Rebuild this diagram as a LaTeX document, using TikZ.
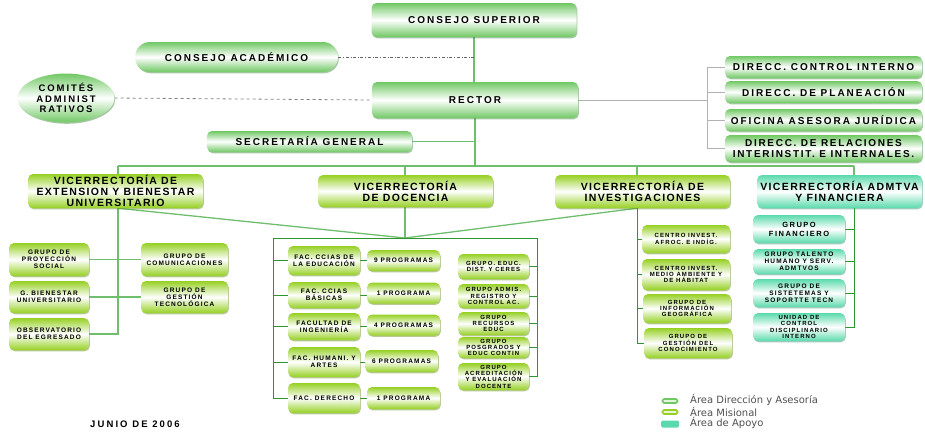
\documentclass[tikz,border=0pt]{standalone}
\usepackage{fontspec}
\setmainfont{Liberation Sans}
\newfontfamily\legfont{DejaVu Sans}
\usetikzlibrary{shapes.geometric,shadows}
\definecolor{dirG}{RGB}{112,200,100}
\definecolor{misG}{RGB}{150,208,35}
\definecolor{apoG}{RGB}{90,218,172}
\definecolor{dirS}{RGB}{60,130,55}
\definecolor{misS}{RGB}{95,135,20}
\definecolor{apoS}{RGB}{50,140,110}
\definecolor{lnG}{RGB}{110,190,110}
\definecolor{lnD}{RGB}{45,150,45}
\definecolor{legT}{RGB}{80,80,80}
\pgfdeclarelayer{bg}\pgfsetlayers{bg,main}
\tikzset{
  base/.style={rounded corners=5pt, align=center, inner sep=0.5pt, text=black},
  dirb/.style={base, top color=dirG, bottom color=dirG, middle color=white, drop shadow={shadow xshift=0.8pt, shadow yshift=-1.3pt, fill=dirS, opacity=0.45}},
  misb/.style={base, top color=misG, bottom color=misG, middle color=white, drop shadow={shadow xshift=0.8pt, shadow yshift=-1.3pt, fill=misS, opacity=0.45}},
  apob/.style={base, top color=apoG, bottom color=apoG, middle color=white, drop shadow={shadow xshift=0.8pt, shadow yshift=-1.3pt, fill=apoS, opacity=0.45}},
  ftop/.style={font=\bfseries\fontsize{10}{11}\selectfont\addfontfeature{LetterSpace=20}},
  fvic/.style={font=\bfseries\fontsize{10.5}{10.8}\selectfont\addfontfeature{LetterSpace=13}},
  fsm/.style={font=\bfseries\fontsize{6.5}{6.9}\selectfont\addfontfeature{LetterSpace=18}},
  fxs/.style={font=\bfseries\fontsize{6}{6.3}\selectfont\addfontfeature{LetterSpace=18}},
  ln/.style={draw=lnG, line width=1.3pt},
  lnd/.style={draw=lnD, line width=1pt},
  lng/.style={draw=gray!60, line width=1pt},
}
\begin{document}
\begin{tikzpicture}[x=1pt,y=-1pt]
\useasboundingbox (0,0) rectangle (925,432);
% top tier
\node[dirb, ftop, minimum width=205pt, minimum height=34pt] (cs) at (474,20) {CONSEJO SUPERIOR};
\node[dirb, ftop, minimum width=203pt, minimum height=30pt, rounded corners=15pt] (ca) at (236.5,57) {CONSEJO ACADÉMICO};
\node[dirb, ellipse, minimum width=97pt, minimum height=49pt, inner sep=0pt, font=\bfseries\fontsize{9.5}{10.8}\selectfont\addfontfeature{LetterSpace=20}] (com) at (66,98) {COMITÉS\\ADMINIST\\RATIVOS};
\node[dirb, ftop, minimum width=206pt, minimum height=36pt] (rector) at (475,100) {RECTOR};
\node[dirb, ftop, minimum width=205pt, minimum height=21pt] (sg) at (309.5,141.5) {SECRETARÍA GENERAL};
\node[dirb, ftop, minimum width=197pt, minimum height=22pt] (d1) at (823.5,67) {DIRECC. CONTROL INTERNO};
\node[dirb, ftop, minimum width=197pt, minimum height=22pt] (d2) at (823.5,92) {DIRECC. DE PLANEACIÓN};
\node[dirb, ftop, minimum width=197pt, minimum height=22pt] (d3) at (823.5,120) {OFICINA ASESORA JURÍDICA};
\node[dirb, minimum width=197pt, minimum height=27pt, font=\bfseries\fontsize{10}{10.5}\selectfont\addfontfeature{LetterSpace=17}] (d4) at (823.5,148.5) {DIRECC. DE RELACIONES\\INTERINSTIT. E INTERNALES.};
% vicerrectorias
\node[misb, fvic, minimum width=175pt, minimum height=34pt] (ve) at (115.5,191) {VICERRECTORÍA DE\\EXTENSION Y BIENESTAR\\UNIVERSITARIO};
\node[misb, fvic, minimum width=175pt, minimum height=32pt] (vd) at (405.5,191) {VICERRECTORÍA\\DE DOCENCIA};
\node[misb, fvic, minimum width=175pt, minimum height=33pt] (vi) at (642.5,191.5) {VICERRECTORÍA DE\\INVESTIGACIONES};
\node[apob, fvic, minimum width=165pt, minimum height=33pt] (va) at (839.5,191.5) {VICERRECTORÍA ADMTVA\\Y FINANCIERA};
% extension
\node[misb, fsm, minimum width=80pt, minimum height=33pt] (eps) at (49,259.5) {GRUPO DE\\PROYECCIÓN\\SOCIAL};
\node[misb, fsm, minimum width=80pt, minimum height=32pt] (ebu) at (49,297) {G. BIENESTAR\\UNIVERSITARIO};
\node[misb, fsm, minimum width=80pt, minimum height=32pt] (eob) at (49,334) {OBSERVATORIO\\DEL EGRESADO};
\node[misb, fsm, minimum width=87pt, minimum height=33pt] (ecom) at (184.5,259.5) {GRUPO DE\\COMUNICACIONES};
\node[misb, fsm, minimum width=87pt, minimum height=32pt] (egt) at (184.5,297) {GRUPO DE\\GESTIÓN\\TECNOLÓGICA};
% docencia faculties
\node[misb, fsm, minimum width=72pt, minimum height=29pt] (f1) at (324,260.5) {FAC. CCIAS DE\\LA EDUCACIÓN};
\node[misb, fsm, minimum width=72pt, minimum height=26pt] (f2) at (324,295) {FAC. CCIAS\\BÁSICAS};
\node[misb, fsm, minimum width=72pt, minimum height=27pt] (f3) at (324,326.5) {FACULTAD DE\\INGENIERÍA};
\node[misb, fsm, minimum width=72pt, minimum height=30pt] (f4) at (324,362) {FAC. HUMANI. Y\\ARTES};
\node[misb, fsm, minimum width=72pt, minimum height=30pt] (f5) at (324,398) {FAC. DERECHO};
\node[misb, fsm, minimum width=73pt, minimum height=21pt] (p1) at (403.5,260.5) {9 PROGRAMAS};
\node[misb, fsm, minimum width=73pt, minimum height=21pt] (p2) at (403.5,293) {1 PROGRAMA};
\node[misb, fsm, minimum width=73pt, minimum height=21pt] (p3) at (403.5,325) {4 PROGRAMAS};
\node[misb, fsm, minimum width=73pt, minimum height=22pt] (p4) at (401.5,361) {6 PROGRAMAS};
\node[misb, fsm, minimum width=73pt, minimum height=22pt] (p5) at (403.5,398) {1 PROGRAMA};
% docencia groups
\node[misb, fxs, minimum width=71pt, minimum height=25pt] (g1) at (493.5,266.5) {GRUPO. EDUC.\\DIST. Y CERES};
\node[misb, fxs, minimum width=71pt, minimum height=24pt] (g2) at (493.5,296) {GRUPO ADMIS.\\REGISTRO Y\\CONTROL AC.};
\node[misb, fxs, minimum width=71pt, minimum height=23pt] (g3) at (493.5,323.5) {GRUPO\\RECURSOS\\EDUC};
\node[misb, fxs, minimum width=71pt, minimum height=21pt] (g4) at (493.5,347.5) {GRUPO\\POSGRADOS Y\\EDUC CONTIN};
\node[misb, fxs, minimum width=71pt, minimum height=27pt] (g5) at (493.5,376.5) {GRUPO\\ACREDITACIÓN\\Y EVALUACIÓN\\DOCENTE};
% investigaciones
\node[misb, fxs, minimum width=88pt, minimum height=28pt] (i1) at (686,239) {CENTRO INVEST.\\AFROC. E INDÍG.};
\node[misb, fxs, minimum width=88pt, minimum height=31pt] (i2) at (686,274.5) {CENTRO INVEST.\\MEDIO AMBIENTE Y\\DE HÁBITAT};
\node[misb, fxs, minimum width=88pt, minimum height=29pt] (i3) at (687,308.5) {GRUPO DE\\INFORMACIÓN\\GEOGRÁFICA};
\node[misb, fxs, minimum width=88pt, minimum height=30pt] (i4) at (688,343) {GRUPO DE\\GESTIÓN DEL\\CONOCIMIENTO};
% admtva
\node[apob, minimum width=92pt, minimum height=28pt, font=\bfseries\fontsize{7.5}{9}\selectfont\addfontfeature{LetterSpace=20}] (a1) at (799,229) {GRUPO\\FINANCIERO};
\node[apob, fsm, minimum width=92pt, minimum height=25pt] (a2) at (799,261.5) {GRUPO TALENTO\\HUMANO Y SERV.\\ADMTVOS};
\node[apob, fsm, minimum width=92pt, minimum height=28pt] (a3) at (799,293) {GRUPO DE\\SISTETEMAS Y\\SOPORTTE TECN};
\node[apob, fxs, minimum width=92pt, minimum height=28pt] (a4) at (799,327) {UNIDAD DE\\CONTROL\\DISCIPLINARIO\\INTERNO};
% legend
\node[draw=dirG, line width=1.6pt, fill=dirG!20, rounded corners=1.5pt, minimum width=15pt, minimum height=4pt, inner sep=0pt] (l1) at (670,401) {};
\node[draw=misG, line width=1.6pt, fill=misG!20, rounded corners=1.5pt, minimum width=15pt, minimum height=4pt, inner sep=0pt] (l2) at (670,412) {};
\node[fill=apoG, rounded corners=1.5pt, minimum width=18pt, minimum height=7pt, inner sep=0pt] (l3) at (670,424) {};
\node[anchor=west, inner sep=0pt, text=legT, font=\legfont\fontsize{10}{11}\selectfont] (t1) at (690,400) {Área Dirección y Asesoría};
\node[anchor=west, inner sep=0pt, text=legT, font=\legfont\fontsize{10}{11}\selectfont] (t2) at (690,411.5) {Área Misional};
\node[anchor=west, inner sep=0pt, text=legT, font=\legfont\fontsize{10}{11}\selectfont] (t3) at (690,423) {Área de Apoyo};
\node[font=\bfseries\fontsize{9.5}{10}\selectfont\addfontfeature{LetterSpace=22}, inner sep=0pt] (jun) at (135,424) {JUNIO DE 2006};
% connectors
\begin{pgfonlayer}{bg}
\draw[ln] (cs.south) -- (cs.south |- rector.north);
\draw[gray!80!black, dash dot, line width=0.7pt] (ca.east) -- (ca.east -| cs.south);
\draw[gray, dashed, line width=0.8pt] (com.east) -- (rector.west);
\coordinate (bL) at (118,166);
\coordinate (bR) at (854,166);
\coordinate (iX) at (637,166);
\coordinate (conv) at (405,238);
\draw[ln] (rector.south) -- (rector.south |- bL);
\draw[ln] (sg.east) -- (sg.east -| rector.south);
\draw[ln] (bL) -- (bR);
% extension
\draw[ln] (bL) |- (eob.east);
\draw[ln] (eps.east) -- (ecom.west);
\draw[ln] (ebu.east) -- (egt.west);
% docencia
\draw[ln] (conv |- bL) -- (conv);
\draw[ln] (bL |- ve.south) -- (conv);
\draw[ln] (iX |- vi.south) -- (conv);
\coordinate (dL) at (273,238);
\coordinate (dR) at (537,238);
\draw[lnd] (dL) -- (dR);
\draw[lnd] (dL) |- (f5.west);
\foreach \f in {f1,f2,f3,f4} \draw[lnd] (\f.west -| dL) -- (\f.west);
\draw[lnd] (dR) |- (g5.east);
\foreach \g in {g1,g2,g3,g4} \draw[lnd] (\g.east) -- (\g.east -| dR);
\draw[lnd] (f1.east) -- (f1.east -| p1.west);
\draw[lnd] (f2.east) -- (f2.east -| p2.west);
\draw[lnd] (f3.east) -- (f3.east -| p3.west);
\draw[lnd] (f4.east) -- (f4.east -| p4.west);
\draw[lnd] (f5.east) -- (f5.east -| p5.west);
% investigaciones
\draw[ln] (iX) -- (iX |- vi.north);
\draw[lnd] (iX |- vi.south) |- (i4.west);
\foreach \i in {i1,i2,i3} \draw[lnd] (\i.west -| iX) -- (\i.west);
% admtva
\draw[ln] (bR) -- (bR |- va.north);
\draw[lnd] (bR |- va.south) |- (a4.east);
\foreach \a in {a1,a2,a3} \draw[lnd] (\a.east) -- (\a.east -| bR);
% direcciones
\coordinate (gX) at (707,100);
\draw[lng] (rector.east) -- (gX);
\draw[lng] (d1.west -| gX) -- (d4.west -| gX);
\foreach \d in {d1,d2,d3,d4} \draw[lng] (\d.west -| gX) -- (\d.west);
\end{pgfonlayer}
\end{tikzpicture}
\end{document}
